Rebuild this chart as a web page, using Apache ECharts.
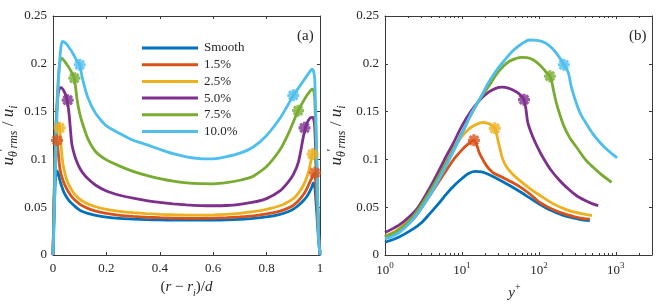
<!DOCTYPE html>
<html><head><meta charset="utf-8">
<script src="https://cdn.jsdelivr.net/npm/echarts@6/dist/echarts.min.js"></script>
<style>html,body{margin:0;padding:0;background:#fff}#c{width:664px;height:307px}</style>
</head><body><div id="c"></div>
<script>
// ---------- names / colours / ticks ----------
const seriesNames = ['Smooth', '1.5%', '2.5%', '5.0%', '7.5%', '10.0%'];
const colors = ['#0072BD', '#D95319', '#EDB120', '#7E2F8E', '#77AC30', '#4DBEEE'];
const yTicks = [0, 0.05, 0.1, 0.15, 0.2, 0.25];
const xTicksA = [0, 0.2, 0.4, 0.6, 0.8, 1];
const decadeTicks = [1, 10, 100, 1000];
const minorTicksB = [2,3,4,5,6,7,8,9,20,30,40,50,60,70,80,90,200,300,400,500,600,700,800,900,2000];

// ---------- panel (a): (r - ri)/d ----------
const xA = [0,0.0025,0.005,0.0075,0.01,0.015,0.02,0.025,0.03,0.035,0.04,0.05,0.06,0.07,0.08,0.09,0.1,0.11,0.13,0.16,0.2,0.25,0.3,0.35,0.4,0.45,0.5,0.55,0.6,0.65,0.7,0.75,0.8,0.85,0.88,0.9,0.92,0.94,0.95,0.96,0.97,0.975,0.98,0.985,0.99,0.995,1];
const aSmooth = [0,.025,.05,.07,.081,.088,.085,.079,.074,.07,.066,.061,.057,.054,.0515,.049,.047,.0455,.0435,.0415,.0397,.0383,.0375,.037,.0367,.0365,.0364,.0364,.0365,.0368,.0374,.0383,.0398,.0425,.0452,.048,.052,.0575,.061,.0655,.0715,.0755,.073,.055,.035,.015,0];
const a15 = [0,.032,.062,.088,.105,.12,.106,.092,.085,.08,.076,.07,.065,.061,.058,.0555,.0533,.0515,.0488,.046,.0435,.0415,.0403,.0395,.039,.0386,.0384,.0384,.0386,.039,.0398,.041,.043,.046,.049,.052,.057,.064,.069,.075,.081,.084,.086,.072,.045,.018,.003];
const a25 = [0,.035,.068,.095,.113,.132,.138,.133,.115,.1,.091,.08,.073,.068,.064,.061,.0585,.0565,.0535,.0505,.0478,.0457,.0443,.0433,.0426,.0421,.0418,.0417,.0419,.0425,.0436,.0453,.0478,.0515,.0555,.059,.065,.074,.081,.09,.104,.109,.108,.09,.055,.02,.004];
const a50 = [0,.035,.07,.1,.125,.155,.17,.1745,.175,.174,.172,.1655,.148,.117,.105,.097,.091,.0865,.08,.073,.067,.0625,.0595,.057,.055,.0535,.0524,.0517,.0515,.0518,.053,.0552,.059,.067,.076,.084,.098,.127,.137,.1425,.144,.1435,.135,.1,.06,.025,0];
const a75 = [0,.035,.07,.1,.125,.16,.185,.2,.206,.2055,.204,.2,.196,.191,.185,.163,.148,.138,.122,.108,.0995,.093,.0875,.0832,.0798,.0772,.0755,.0746,.0745,.0757,.0782,.0825,.0925,.11,.126,.139,.152,.162,.1665,.1705,.1735,.173,.165,.12,.07,.02,0];
const a100 = [0,.02,.045,.078,.1,.147,.18,.203,.218,.2235,.223,.221,.217,.213,.208,.203,.199,.185,.165,.148,.135,.127,.12,.1155,.1105,.106,.1027,.1008,.1005,.1028,.1065,.113,.125,.143,.157,.167,.175,.183,.187,.191,.1945,.193,.185,.14,.08,.015,0];
// asterisk markers (x, value) – inner and outer wall
const mkA15 = [[0.015, 0.12], [0.981, 0.086]];
const mkA25 = [[0.025, 0.133], [0.972, 0.1056]];
const mkA50 = [[0.055, 0.162], [0.942, 0.133]];
const mkA75 = [[0.08, 0.185], [0.918, 0.151]];
const mkA100 = [[0.1, 0.199], [0.9, 0.167]];

// ---------- panel (b): y+ (log) ----------
const bSmooth = [[1,.0133],[1.5,.0185],[2.3,.027],[3,.034],[3.8,.043],[5,.054],[6.3,.064],[8,.073],[10,.08],[12,.085],[14.7,.0875],[18,.087],[22,.0845],[30,.079],[40,.0735],[55,.067],[75,.06],[100,.0535],[140,.047],[200,.042],[290,.0385],[380,.0365],[460,.036]];
const b15 = [[1,.0185],[1.5,.025],[2.3,.037],[3.8,.062],[6.3,.089],[8,.101],[10,.11],[12,.116],[14.3,.12],[17,.106],[20.8,.0935],[25,.0865],[32,.082],[46,.0755],[60,.07],[80,.0625],[100,.0555],[140,.049],[200,.0438],[290,.0400],[380,.038],[460,.0375]];
const b25 = [[1,.0195],[1.5,.027],[2.3,.042],[3.8,.068],[6.3,.098],[8,.113],[10,.124],[12,.131],[14,.135],[18.8,.1388],[23,.137],[26.7,.1325],[29,.122],[31,.112],[34,.1],[38,.092],[45,.085],[56,.078],[75,.07],[100,.063],[150,.054],[218,.048],[300,.0445],[400,.0425],[490,.0412]];
const b50 = [[1,.0235],[1.5,.031],[2,.039],[2.7,.05],[3.8,.07],[5,.088],[6.3,.104],[7.5,.115],[10,.135],[13,.15],[17,.162],[22,.17],[28,.1745],[33,.1755],[40,.1745],[50,.171],[58,.167],[64,.1625],[68,.152],[72,.138],[84,.123],[100,.11],[113,.102],[140,.09],[186,.078],[250,.068],[309,.062],[400,.057],[500,.0535],[590,.0516]];
const b75 = [[1,.019],[1.5,.026],[2.3,.04],[3.8,.066],[6.3,.097],[10,.128],[13,.146],[17,.163],[23,.178],[28,.189],[35,.198],[42,.203],[50,.2055],[59,.2068],[70,.2065],[85,.204],[105,.198],[125,.191],[139,.187],[148,.18],[155,.172],[170,.158],[206,.137],[250,.123],[309,.1127],[400,.1],[507,.0917],[650,.084],[880,.076]];
const b100 = [[1,.0168],[1.5,.023],[2.3,.037],[3.8,.062],[6.3,.094],[10.3,.129],[13,.147],[17,.163],[22,.18],[28,.193],[36,.204],[46,.2137],[60,.221],[76,.2249],[95,.2245],[120,.222],[150,.216],[180,.208],[211,.199],[240,.191],[265,.1754],[309,.158],[350,.147],[416,.137],[500,.127],[617,.118],[800,.109],[1040,.1015]];
const mkB15 = [[14.3, 0.12]];
const mkB25 = [[26.7, 0.1325]];
const mkB50 = [[64, 0.1625]];
const mkB75 = [[139, 0.187]];
const mkB100 = [[211, 0.199]];

// ---------- build ----------
const FONT = 'Liberation Serif';
const TXT = '#262626';
const AX = '#3a3a3a';
const aData = [aSmooth, a15, a25, a50, a75, a100];
const bData = [bSmooth, b15, b25, b50, b75, b100];
const mkA = [null, mkA15, mkA25, mkA50, mkA75, mkA100];
const mkB = [null, mkB15, mkB25, mkB50, mkB75, mkB100];

const mathRich = {
  n: {fontFamily: FONT, fontSize: 15, lineHeight: 22, color: TXT},
  i: {fontFamily: FONT, fontStyle: 'italic', fontSize: 15, lineHeight: 22, color: TXT},
  sub: {fontFamily: FONT, fontStyle: 'italic', fontSize: 10, lineHeight: 11, verticalAlign: 'bottom', color: TXT},
  sup: {fontFamily: FONT, fontSize: 10, lineHeight: 12, verticalAlign: 'top', color: TXT}
};
const yRich = {
  n: {fontFamily: FONT, fontSize: 17, lineHeight: 22, color: TXT},
  i: {fontFamily: FONT, fontStyle: 'italic', fontSize: 17, lineHeight: 22, color: TXT},
  sub: {fontFamily: FONT, fontStyle: 'italic', fontSize: 12, lineHeight: 11, verticalAlign: 'bottom', color: TXT},
  sup: {fontFamily: FONT, fontSize: 12, lineHeight: 12, verticalAlign: 'top', color: TXT}
};
const yName = '{i|u}{sub|θ}{sup|′}{sub|rms}{n| / }{i|u}{sub|i}';

const asterisk = 'path://M0,-10L0,10M-10,0L10,0M-7.07,-7.07L7.07,7.07M-7.07,7.07L7.07,-7.07';

function lineAxis(show) { return {show: show, onZero: false, lineStyle: {color: AX, width: 1}}; }
const tickLbl = {fontFamily: FONT, fontSize: 13, color: TXT};

const xAxis = [
  {gridIndex: 0, type: 'value', min: 0, max: 1, interval: 0.2, position: 'bottom',
   axisLine: lineAxis(true), splitLine: {show: false},
   axisTick: {inside: true, length: 3, lineStyle: {color: AX}},
   axisLabel: Object.assign({margin: 7, customValues: xTicksA}, tickLbl),
   name: '{n|(}{i|r}{n| − }{i|r}{sub|i}{n|)/}{i|d}', nameLocation: 'middle', nameGap: 20,
   nameTextStyle: {rich: mathRich}},
  {gridIndex: 0, type: 'value', min: 0, max: 1, interval: 0.2, position: 'top',
   axisLine: lineAxis(true), splitLine: {show: false},
   axisTick: {inside: true, length: 3, lineStyle: {color: AX}}, axisLabel: {show: false}},
  {gridIndex: 1, type: 'log', logBase: 10, min: 1, max: 2950, position: 'bottom',
   axisLine: lineAxis(true), splitLine: {show: false},
   axisTick: {inside: true, length: 3, customValues: decadeTicks, lineStyle: {color: AX}},
   axisLabel: {margin: 6, customValues: decadeTicks,
     formatter: v => '{b|10}{s|' + Math.round(Math.log10(v)) + '}',
     rich: {b: {fontFamily: FONT, fontSize: 13, lineHeight: 20, color: TXT},
            s: {fontFamily: FONT, fontSize: 9, lineHeight: 11, verticalAlign: 'top', color: TXT}}},
   name: '{i|y}{sup|+}', nameLocation: 'middle', nameGap: 16,
   nameTextStyle: {rich: mathRich, padding: [0, 8, 0, 0]}},
  {gridIndex: 1, type: 'log', logBase: 10, min: 1, max: 2950, position: 'bottom',
   axisLine: lineAxis(false), splitLine: {show: false},
   axisTick: {inside: true, length: 2, customValues: minorTicksB, lineStyle: {color: AX}}, axisLabel: {show: false}},
  {gridIndex: 1, type: 'log', logBase: 10, min: 1, max: 2950, position: 'top',
   axisLine: lineAxis(true), splitLine: {show: false},
   axisTick: {inside: true, length: 3, customValues: decadeTicks, lineStyle: {color: AX}}, axisLabel: {show: false}},
  {gridIndex: 1, type: 'log', logBase: 10, min: 1, max: 2950, position: 'top',
   axisLine: lineAxis(false), splitLine: {show: false},
   axisTick: {inside: true, length: 2, customValues: minorTicksB, lineStyle: {color: AX}}, axisLabel: {show: false}}
];

function yAx(g, pos, labels, gap) {
  const o = {gridIndex: g, type: 'value', min: 0, max: 0.25, interval: 0.05, position: pos,
    axisLine: lineAxis(true), splitLine: {show: false},
    axisTick: {inside: true, length: 3, lineStyle: {color: AX}},
    axisLabel: labels ? Object.assign({margin: 6, customValues: yTicks}, tickLbl) : {show: false}};
  if (labels) Object.assign(o, {name: yName, nameLocation: 'middle', nameGap: gap, nameRotate: 90, nameTextStyle: {rich: yRich}});
  return o;
}
const yAxis = [yAx(0, 'left', true, 33), yAx(0, 'right', false), yAx(1, 'left', true, 37), yAx(1, 'right', false)];

const series = [];
for (let k = 0; k < 6; k++) {
  series.push({name: seriesNames[k], type: 'line', xAxisIndex: 0, yAxisIndex: 0,
    data: xA.map((x, i) => [x, aData[k][i]]), showSymbol: false, smooth: 0.2,
    lineStyle: {width: 2.8, color: colors[k]}, itemStyle: {color: colors[k]}, z: 2 + k});
  series.push({name: 'b' + k, type: 'line', xAxisIndex: 2, yAxisIndex: 2,
    data: bData[k], showSymbol: false, smooth: 0.3,
    lineStyle: {width: 2.8, color: colors[k]}, itemStyle: {color: colors[k]}, z: 2 + k});
}
for (let k = 1; k < 6; k++) {
  const st = {color: colors[k], borderColor: colors[k], borderWidth: 3.2};
  series.push({name: 'ma' + k, type: 'scatter', xAxisIndex: 0, yAxisIndex: 0, data: mkA[k],
    symbol: asterisk, symbolSize: 12, itemStyle: st, z: 20, silent: true});
  series.push({name: 'mb' + k, type: 'scatter', xAxisIndex: 2, yAxisIndex: 2, data: mkB[k],
    symbol: asterisk, symbolSize: 12, itemStyle: st, z: 20, silent: true});
}

const option = {
  animation: false,
  backgroundColor: '#ffffff',
  grid: [
    {left: 53, top: 16, width: 267, height: 239, outerBoundsMode: 'none', containLabel: false},
    {left: 385, top: 16, width: 267, height: 239, outerBoundsMode: 'none', containLabel: false}
  ],
  xAxis: xAxis, yAxis: yAxis,
  title: [
    {text: '(a)', left: 292, top: 24, textStyle: {fontFamily: FONT, fontSize: 15, fontWeight: 'normal', color: TXT}},
    {text: '(b)', left: 624, top: 24, textStyle: {fontFamily: FONT, fontSize: 15, fontWeight: 'normal', color: TXT}}
  ],
  legend: {
    orient: 'vertical', left: 137, top: 36, itemWidth: 56, itemHeight: 3, itemGap: 2.7,
    icon: 'rect', data: seriesNames,
    textStyle: {fontFamily: FONT, fontSize: 13, lineHeight: 14, color: TXT, padding: [0, 0, 0, 1]}
  },
  series: series
};
const chart = echarts.init(document.getElementById('c'), null, {renderer: 'canvas'});
chart.setOption(option);
</script></body></html>
